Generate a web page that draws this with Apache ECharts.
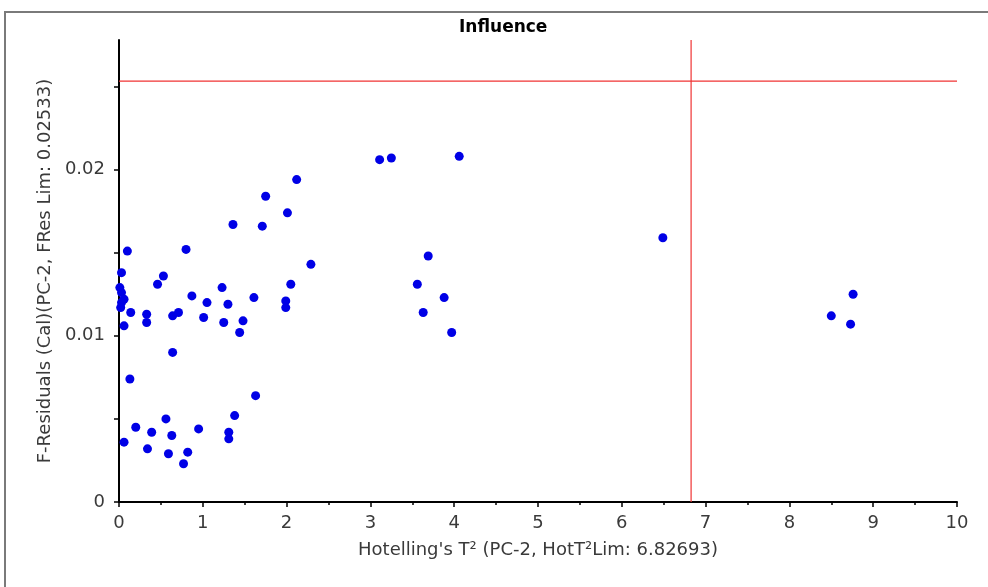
<!DOCTYPE html>
<html>
<head>
<meta charset="utf-8">
<script src="https://cdn.jsdelivr.net/npm/echarts@6/dist/echarts.min.js"></script>
<style>
html,body{margin:0;padding:0;background:#fff;}
#chart{width:988px;height:587px;}
</style>
</head>
<body>
<div id="chart"></div>
<script>
// Hotelling's T² values (x)
var hotellingT2 = [3.11,3.25,4.06,2.12,1.75,2.01,1.36,1.71,0.80,0.10,2.29,6.49,3.69,3.56,3.88,3.63,3.97,8.76,8.50,8.73,
  0.03,0.53,0.46,0.01,0.03,0.06,0.03,0.02,0.14,0.33,0.33,0.06,0.87,1.05,1.23,1.30,1.61,0.64,0.71,1.01,1.25,1.48,1.44,1.99,1.99,2.05,
  0.64,0.13,1.63,1.38,0.56,0.20,0.39,0.63,0.95,1.31,1.31,0.06,0.34,0.59,0.82,0.77];
// F-Residuals values (y)
var fResiduals = [0.0206,0.0207,0.0208,0.0194,0.0184,0.0174,0.0167,0.0166,0.0152,0.0151,0.0143,0.0159,0.0148,0.0131,0.0123,0.0114,0.0102,0.0125,0.0112,0.0107,
  0.0138,0.0136,0.0131,0.0129,0.0126,0.0122,0.0120,0.0117,0.0114,0.0113,0.0108,0.0106,0.0124,0.0120,0.0129,0.0119,0.0123,0.0112,0.0114,0.0111,0.0108,0.0109,0.0102,0.0121,0.0117,0.0131,
  0.0090,0.0074,0.0064,0.0052,0.0050,0.0045,0.0042,0.0040,0.0044,0.0042,0.0038,0.0036,0.0032,0.0029,0.0030,0.0023];
var hotT2Lim = 6.82693;
var fResLim = 0.02533;
var xTickLabels = [0,1,2,3,4,5,6,7,8,9,10];
var yTickLabels = [0,0.01,0.02];
var yTicks = [0,0.005,0.01,0.015,0.02,0.025];

var xMax = 10, yMax = 0.0278;
var points = hotellingT2.map(function(x,i){return [x,fResiduals[i]];});
var FONT = 'DejaVu Sans';

var chart = echarts.init(document.getElementById('chart'));
chart.setOption({
  animation:false,
  backgroundColor:'#fff',
  graphic:[{type:'rect',shape:{x:5,y:12,width:1000,height:600},style:{fill:'none',stroke:'#7a7a7a',lineWidth:2},silent:true,z:-1}],
  title:{text:'Influence',left:459,top:19,padding:0,textStyle:{fontFamily:FONT,fontSize:17,fontWeight:'bold',color:'#000'}},
  grid:{left:119,right:31,top:40,bottom:85},
  xAxis:{type:'value',min:0,max:xMax,interval:1,
    name:"Hotelling's T\u00b2 (PC-2, HotT\u00b2Lim: 6.82693)",nameLocation:'middle',nameGap:39,
    nameTextStyle:{fontFamily:FONT,fontSize:18,color:'#3a3a3a'},
    axisLine:{lineStyle:{color:'#000',width:2}},
    axisTick:{show:true,inside:false,length:5,lineStyle:{color:'#000',width:1.5}},
    minorTick:{show:true,splitNumber:2,length:3,lineStyle:{color:'#000',width:1.5}},
    axisLabel:{customValues:xTickLabels,fontFamily:FONT,fontSize:18,color:'#3a3a3a',margin:12},
    splitLine:{show:false}},
  yAxis:{type:'value',min:0,max:yMax,
    name:'F-Residuals (Cal)(PC-2, FRes Lim: 0.02533)',nameLocation:'middle',nameGap:64,
    nameTextStyle:{fontFamily:FONT,fontSize:18,color:'#3a3a3a'},
    axisLine:{show:true,lineStyle:{color:'#000',width:2}},
    axisTick:{show:true,inside:false,length:5,customValues:yTicks,lineStyle:{color:'#000',width:1.5}},
    axisLabel:{customValues:yTickLabels,fontFamily:FONT,fontSize:18,color:'#3a3a3a',margin:14,
      formatter:function(v){return v===0?'0':String(+v.toFixed(3));}},
    splitLine:{show:false}},
  series:[
    {type:'scatter',data:points,symbolSize:9,itemStyle:{color:'#0000e6',opacity:1},z:3},
    {type:'line',data:[[0,fResLim],[xMax,fResLim]],symbol:'none',lineStyle:{color:'#f03333',width:1.2},z:2},
    {type:'line',data:[[hotT2Lim,0],[hotT2Lim,yMax]],symbol:'none',lineStyle:{color:'#f03333',width:1.2},z:2}
  ]
});
</script>
</body>
</html>
